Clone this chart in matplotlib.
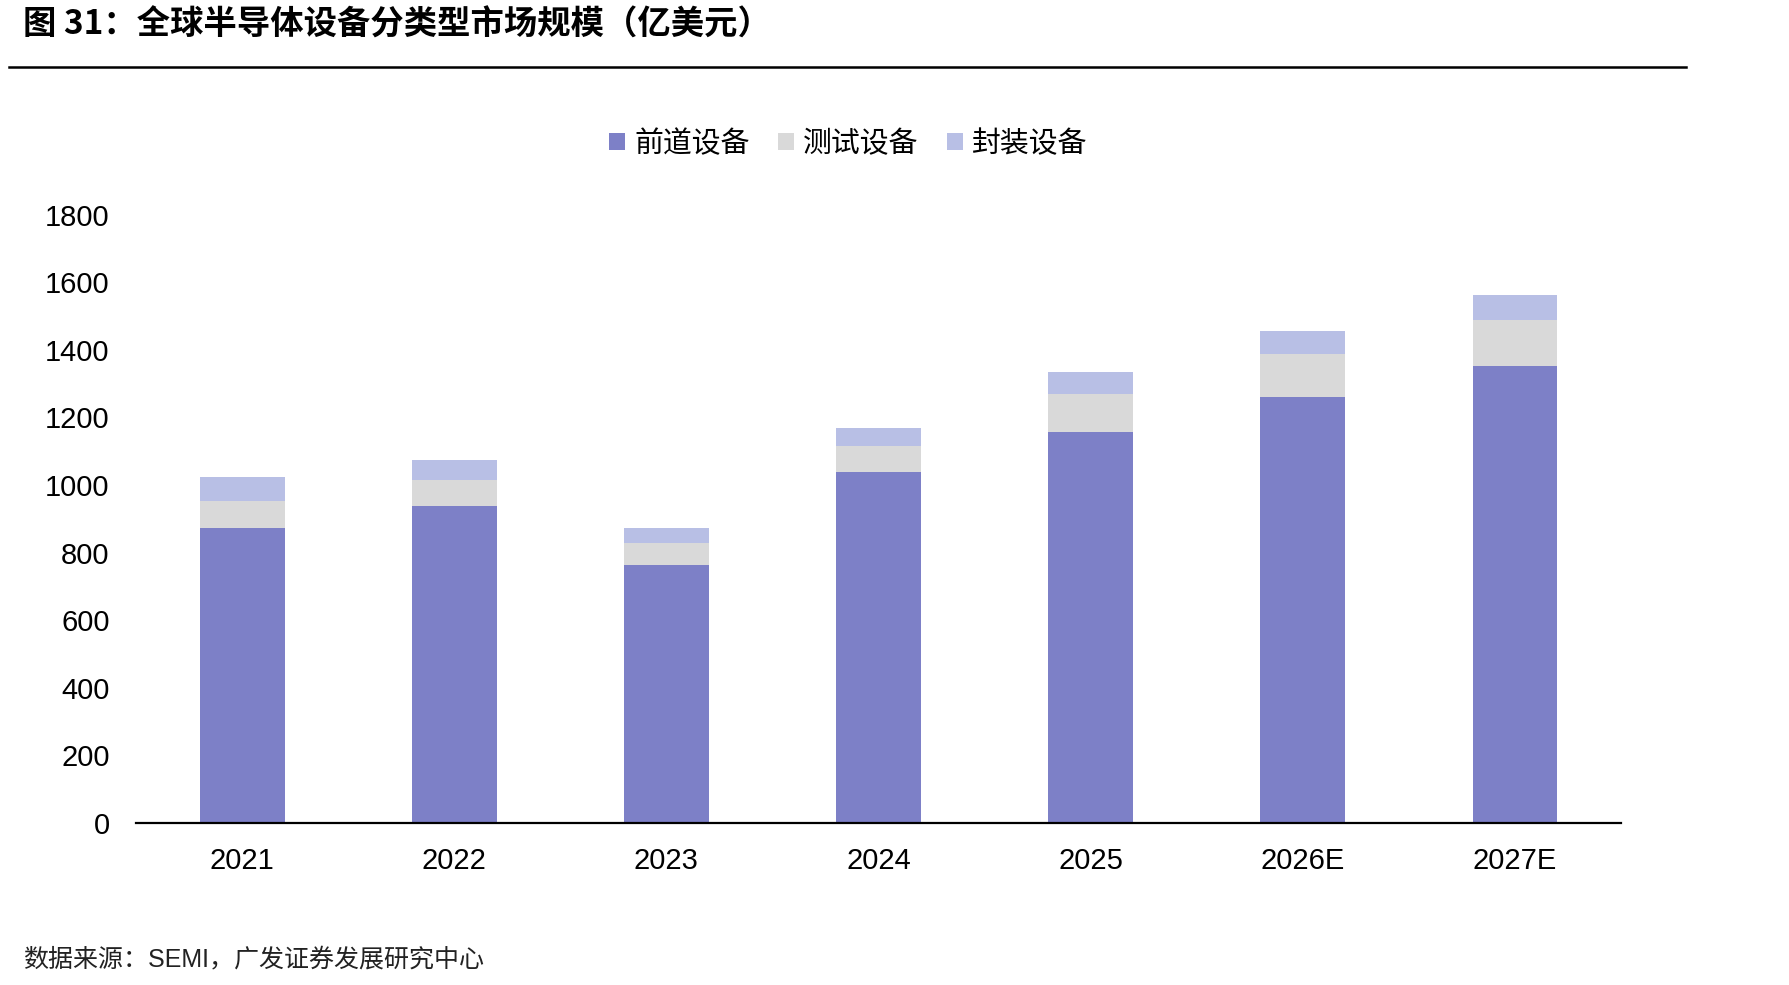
import numpy as np
import matplotlib as mpl
import matplotlib.pyplot as plt

mpl.use('Agg')
plt.rcParams['font.family'] = ['Liberation Sans', 'Noto Sans CJK SC', 'DejaVu Sans']

# data (亿美元)
years = ['2021', '2022', '2023', '2024', '2025', '2026E', '2027E']
front_end = [874, 939, 764, 1039, 1157, 1260, 1352]
test_eq = [79, 76, 64, 76, 112, 127, 136]
packaging = [71, 58, 44, 53, 64, 69, 74]
series_names = ['前道设备', '测试设备', '封装设备']
y_ticks = [0, 200, 400, 600, 800, 1000, 1200, 1400, 1600, 1800]

colors = ['#7D80C7', '#D9D9D9', '#B8BFE5']
cjk = ['Noto Sans CJK SC', 'DejaVu Sans']

fig = plt.figure(figsize=(17.9, 9.85), dpi=100)
ax = fig.add_axes([0.076, 0.1644, 0.8296, 0.6177])

x = np.arange(len(years))
width = 0.4
bottom = np.zeros(len(years))
for name, vals, c in zip(series_names, [front_end, test_eq, packaging], colors):
    ax.bar(x, vals, width, bottom=bottom, color=c, label=name, zorder=2)
    bottom += np.array(vals)

ax.set_xlim(-0.5, len(years) - 0.5)
ax.set_ylim(0, 1800)
ax.set_yticks(y_ticks)
ax.set_xticks(x)
ax.set_xticklabels(years)
ax.tick_params(axis='both', length=0, labelsize=21, colors='black')
ax.tick_params(axis='x', pad=17)
ax.tick_params(axis='y', pad=19)
for s in ['top', 'right', 'left']:
    ax.spines[s].set_visible(False)
ax.spines['bottom'].set_linewidth(1.6)
ax.spines['bottom'].set_color('black')

leg = fig.legend(loc='center', bbox_to_anchor=(0.474, 0.854), ncol=3, frameon=False,
                 prop={'family': cjk, 'size': 20.8}, handlelength=0.55, handleheight=0.55,
                 handletextpad=0.3, columnspacing=1.0)

# title and rule
fig.text(0.013, 0.975, '图 31：全球半导体设备分类型市场规模（亿美元）', fontsize=24,
         fontweight='bold', family=cjk, va='center', ha='left')
fig.add_artist(plt.Line2D([0.005, 0.942], [0.932, 0.932], color='black', lw=1.8,
                          transform=fig.transFigure))

fig.text(0.013, 0.026, '数据来源：SEMI，广发证券发展研究中心', fontsize=18,
         va='center', ha='left', color='#222222')

fig.savefig('out.png', dpi=100)
